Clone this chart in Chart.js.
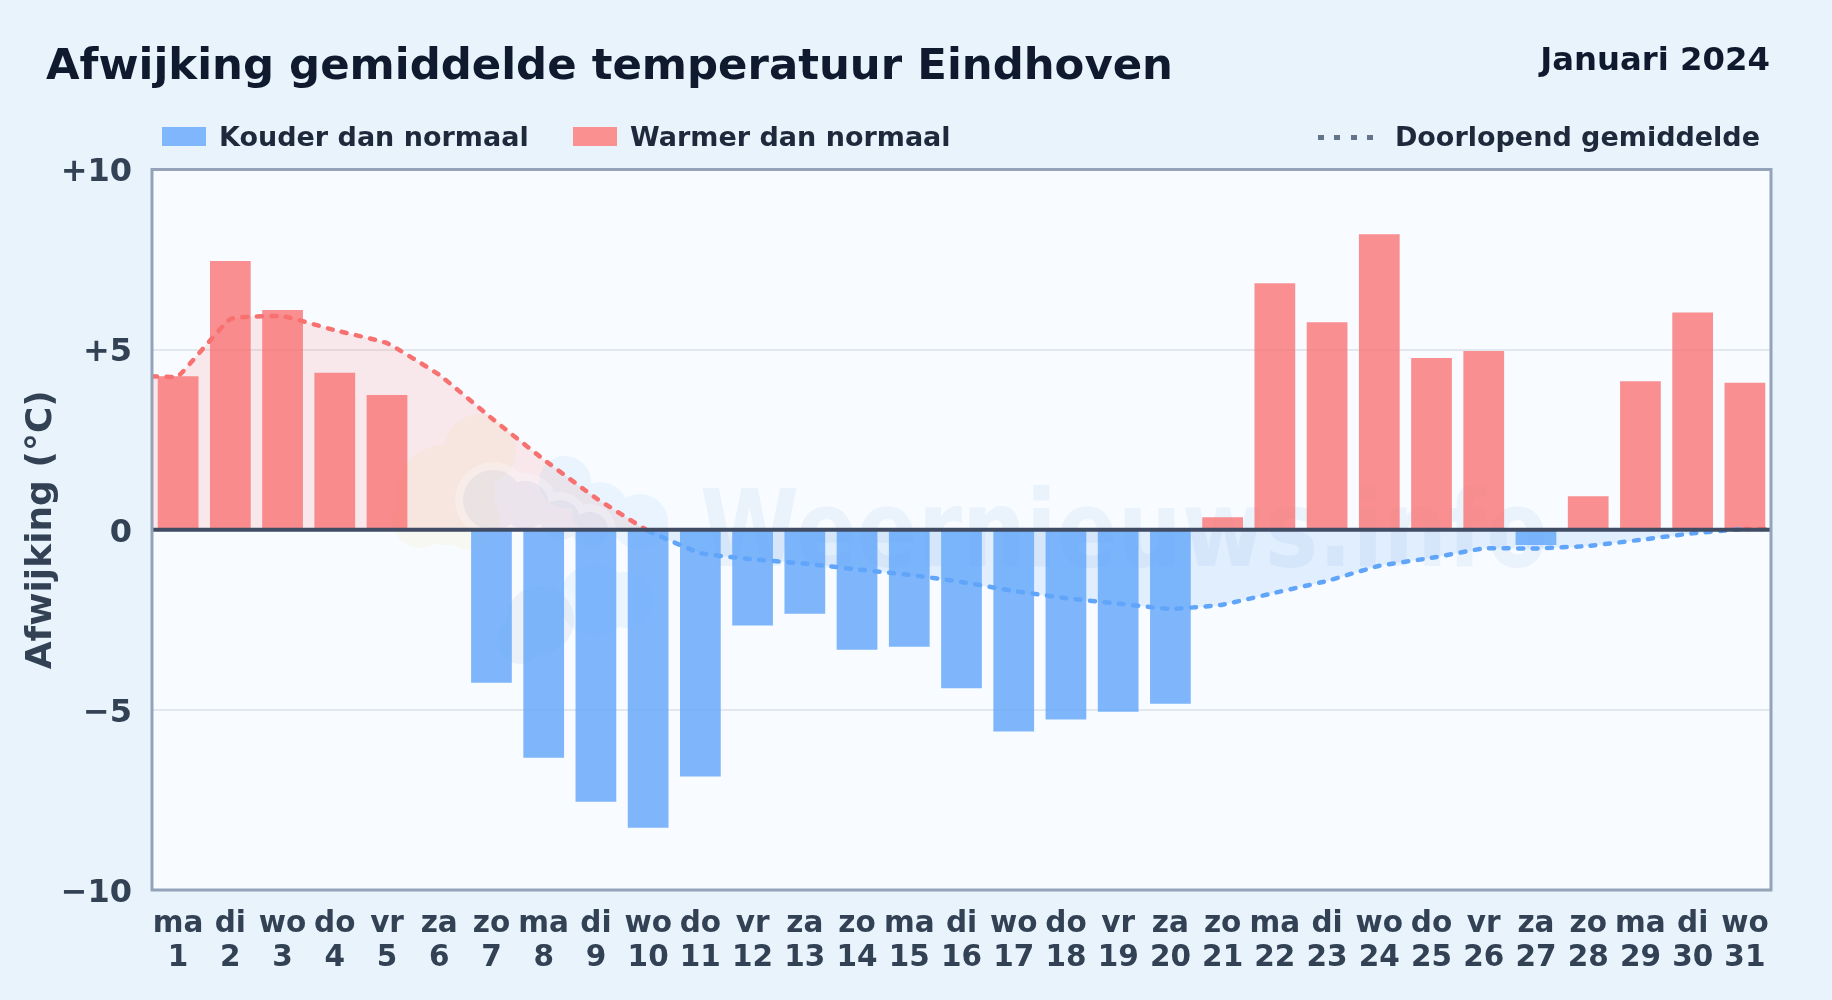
<!DOCTYPE html>
<html lang="nl">
<head>
<meta charset="utf-8">
<title>Afwijking gemiddelde temperatuur Eindhoven</title>
<script src="https://cdn.jsdelivr.net/npm/chart.js@4/dist/chart.umd.min.js"></script>
<style>
    html, body { margin: 0; padding: 0; background: #e9f3fc; overflow: hidden; }
    body { position: relative; width: 1832px; height: 1000px; font-family: "DejaVu Sans", sans-serif; font-weight: bold; }
    canvas { position: absolute; left: 0; top: 0; }
    .txt { position: absolute; white-space: nowrap; line-height: 1; }
    #title { left: 46px; top: 43px; font-size: 43.4px; color: #0f1a2e; }
    #period { right: 62px; top: 43px; font-size: 32.3px; color: #0f1a2e; }
    .legend { top: 123px; font-size: 27px; color: #1e293b; }
    .swatch { position: absolute; top: 127px; height: 19px; width: 44px; }
    #dots { position: absolute; left: 1318px; top: 134.5px; width: 55px; height: 5px;
        background: repeating-linear-gradient(90deg, #64748b 0 6px, transparent 6px 16.4px); }
</style>
</head>
<body>
<canvas id="chart" width="1832" height="1000"></canvas>
<div class="txt" id="title">Afwijking gemiddelde temperatuur Eindhoven</div>
<div class="txt" id="period">Januari 2024</div>
<div class="swatch" id="swCold" style="left:162px"></div>
<div class="txt legend" style="left:219px">Kouder dan normaal</div>
<div class="swatch" id="swWarm" style="left:573px"></div>
<div class="txt legend" style="left:630px">Warmer dan normaal</div>
<div id="dots"></div>
<div class="txt legend" style="right:72px">Doorlopend gemiddelde</div>

<script>
const weekdays = ["ma","di","wo","do","vr","za","zo","ma","di","wo","do","vr","za","zo","ma","di","wo","do","vr","za","zo","ma","di","wo","do","vr","za","zo","ma","di","wo"];
const days = [1,2,3,4,5,6,7,8,9,10,11,12,13,14,15,16,17,18,19,20,21,22,23,24,25,26,27,28,29,30,31];
const deviation = [4.26,7.46,6.1,4.36,3.74,0,-4.25,-6.33,-7.55,-8.27,-6.85,-2.66,-2.33,-3.33,-3.25,-4.4,-5.6,-5.27,-5.05,-4.83,0.35,6.84,5.76,8.2,4.77,4.96,-0.42,0.93,4.12,6.03,4.08];
const runningMean = [4.26,5.85,5.93,5.54,5.18,4.3,3.1,1.95,0.88,-0.03,-0.65,-0.82,-0.94,-1.1,-1.25,-1.45,-1.7,-1.9,-2.05,-2.2,-2.08,-1.75,-1.42,-1.0,-0.78,-0.52,-0.52,-0.45,-0.28,-0.1,0.02];
const yTicks = [-10,-5,0,5,10];

const RED = "#f87171", BLUE = "#60a5fa";
const RED_BAR = "rgba(248,113,113,0.78)", BLUE_BAR = "rgba(96,165,250,0.8)";
const TICK_COLOR = "#334155";
const FONT = "'DejaVu Sans', sans-serif";

document.getElementById("swCold").style.background = "#80b6fb";
document.getElementById("swWarm").style.background = "#fa9090";

// the running mean carries on flat to both edges of the plot
const xMin = days[0] - 0.5, xMax = days[days.length - 1] + 0.5;
const lineData = [{x: xMin, y: runningMean[0]}]
    .concat(days.map((d, i) => ({x: d, y: runningMean[i]})))
    .concat([{x: xMax, y: runningMean[runningMean.length - 1]}]);

function blob(ctx, circles, color) {
    ctx.beginPath();
    circles.forEach(c => {
        ctx.moveTo(c[0] + c[2], c[1]);
        ctx.arc(c[0], c[1], c[2], 0, Math.PI * 2);
    });
    ctx.fillStyle = color;
    ctx.fill();
}

const frontCloud = [[493,500,30],[525,505,24],[560,520,20],[590,530,18],[540,620,34],[520,640,24]];

const plotDecor = {
    id: "plotDecor",
    beforeDraw (chart) {
        const ctx = chart.ctx, a = chart.chartArea;
        ctx.save();
        ctx.fillStyle = "#f8fbff";
        ctx.fillRect(a.left, a.top, a.width, a.height);
        ctx.restore();
    },
    beforeDatasetsDraw (chart) {
        const ctx = chart.ctx;
        ctx.save();
        // watermark logo: sun, back cloud, pale halo, front cloud
        blob(ctx, [[480,450,36],[445,495,50],[420,520,28],[470,520,30]], "rgba(250,225,120,0.10)");
        blob(ctx, [[565,482,26],[600,510,28],[640,522,28],[595,600,36],[625,600,28]], "rgba(130,200,250,0.12)");
        blob(ctx, frontCloud.map(c => [c[0], c[1], c[2] + 8]), "rgba(248,251,255,0.3)");
        blob(ctx, frontCloud, "rgba(90,110,170,0.07)");
        // watermark text
        ctx.font = "bold 107px " + FONT;
        ctx.fillStyle = "rgba(100,160,215,0.09)";
        ctx.textAlign = "left";
        ctx.textBaseline = "alphabetic";
        ctx.fillText("Weernieuws.info", 700, 566, 848);
        ctx.restore();
    },
    afterDatasetsDraw (chart) {
        const ctx = chart.ctx, a = chart.chartArea;
        const y0 = chart.scales.y.getPixelForValue(0);
        ctx.save();
        ctx.strokeStyle = "#3f4c63";
        ctx.lineWidth = 4;
        ctx.beginPath();
        ctx.moveTo(a.left, y0);
        ctx.lineTo(a.right, y0);
        ctx.stroke();
        ctx.strokeStyle = "#94a3b8";
        ctx.lineWidth = 3;
        ctx.strokeRect(a.left, a.top, a.width, a.height);
        ctx.restore();
    }
};

new Chart(document.getElementById("chart"), {
    type: "bar",
    data: {
        datasets: [{
            type: "line",
            label: "Doorlopend gemiddelde",
            data: lineData,
            order: 0,
            borderWidth: 4.5,
            borderDash: [5, 9.5],
            borderCapStyle: "round",
            tension: 0.1,
            pointRadius: 0,
            borderColor: RED,
            segment: {
                borderColor: ctx => ctx.p0.parsed.y >= 0 ? RED : BLUE
            },
            fill: {
                target: {value: 0},
                above: "rgba(248,113,113,0.14)",
                below: "rgba(96,165,250,0.15)"
            }
        }, {
            type: "bar",
            label: "Afwijking",
            data: days.map((d, i) => ({x: d, y: deviation[i]})),
            order: 1,
            grouped: false,
            barPercentage: 0.78,
            categoryPercentage: 1,
            backgroundColor: ctx => ctx.raw && ctx.raw.y < 0 ? BLUE_BAR : RED_BAR
        }]
    },
    options: {
        responsive: false,
        animation: false,
        devicePixelRatio: 1,
        layout: {padding: {top: 169.5, right: 61, bottom: 0, left: 0}},
        plugins: {
            legend: {display: false},
            title: {display: false},
            tooltip: {enabled: false},
            filler: {drawTime: "beforeDatasetsDraw"}
        },
        scales: {
            x: {
                type: "linear",
                offset: false,
                min: xMin,
                max: xMax,
                afterFit: s => { s.height = 110; },
                afterBuildTicks: s => { s.ticks = days.map(d => ({value: d})); },
                grid: {display: false},
                border: {display: false},
                ticks: {
                    autoSkip: false,
                    maxRotation: 0,
                    padding: 9,
                    color: TICK_COLOR,
                    font: {family: FONT, size: 29.5, weight: "bold", lineHeight: 1.15},
                    callback: (v, i) => [weekdays[i], String(days[i])]
                }
            },
            y: {
                min: -10,
                max: 10,
                afterFit: s => { s.width = 152; },
                afterBuildTicks: s => { s.ticks = yTicks.map(v => ({value: v})); },
                border: {display: false},
                grid: {
                    drawTicks: false,
                    lineWidth: 2,
                    color: ctx => Math.abs(ctx.tick.value) === 5 ? "#e2e8ee" : "rgba(0,0,0,0)"
                },
                ticks: {
                    padding: 20,
                    labelOffset: 3.5,
                    color: TICK_COLOR,
                    font: {family: FONT, size: 32, weight: "bold"},
                    callback: v => v > 0 ? "+" + v : v < 0 ? "\u2212" + Math.abs(v) : "0"
                },
                title: {
                    display: true,
                    text: "Afwijking (°C)",
                    color: TICK_COLOR,
                    font: {family: FONT, size: 36, weight: "bold"},
                    padding: {top: 20, bottom: 0}
                }
            }
        }
    },
    plugins: [plotDecor]
});
</script>
</body>
</html>
